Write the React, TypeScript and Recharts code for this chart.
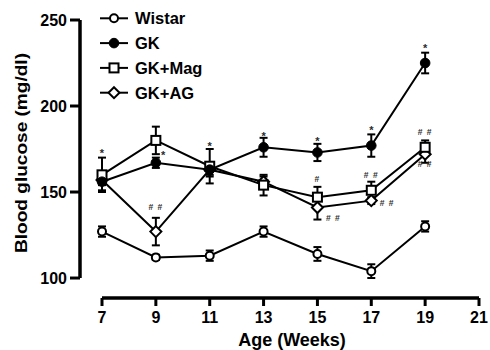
import React from 'react';
import {
  ComposedChart,
  Line,
  XAxis,
  YAxis,
  ErrorBar,
  Scatter,
  ReferenceLine,
  Legend,
} from 'recharts';

// ---- data ----
const weeks = [7, 9, 11, 13, 15, 17, 19];
const wistar = [127, 112, 113, 127, 114, 104, 130];
const wistarErr = [3, 1.5, 3, 3, 4, 4, 3];
const gk = [156, 167, 163, 176, 173, 177, 225];
const gkErr = [5, 3, 3, 5.5, 5, 6.5, 6];
const gkMag = [160, 180, 165, 154, 147, 151, 176];
const gkMagErr = [10, 8, 10, 6, 6, 5, 4];
const gkAg = [157, 127, 163, 156, 141, 145, 172];
const gkAgErr = [3, 8, 4, 3, 7, 2, 5];

const xTicks = [7, 9, 11, 13, 15, 17, 19, 21];
const yTicks = [100, 150, 200, 250];
const seriesNames = ['Wistar', 'GK', 'GK+Mag', 'GK+AG'];

const annotWeeks = [7, 9, 9, 11, 13, 15, 15, 15, 17, 17, 17, 19, 19, 19];
const annotValues = [174.3, 173.3, 141.2, 178.4, 184.2, 181.5, 157.5, 134.7, 187.9, 159.8, 143.6, 235.3, 185, 166.2];
const annotTexts = ['*', '*', '# #', '*', '*', '*', '#', '# #', '*', '# #', '# #', '*', '# #', '# #'];
const annotSides = ['above', 'right', 'above', 'above', 'above', 'above', 'above', 'right', 'above', 'above', 'right', 'above', 'above', 'above'];

// ---- derived tables ----
const data = weeks.map((w, i) => ({
  week: w,
  wistar: wistar[i],
  wistarErr: wistarErr[i],
  gk: gk[i],
  gkErr: gkErr[i],
  gkMag: gkMag[i],
  gkMagErr: gkMagErr[i],
  gkAg: gkAg[i],
  gkAgErr: gkAgErr[i],
}));

const annotations = annotWeeks.map((w, i) => ({
  week: w,
  y: annotValues[i],
  text: annotTexts[i],
  side: annotSides[i],
}));

const X_MIN = 6.183;
const X_MAX = 21;
const Y_MIN = 88.39;
const Y_MAX = 250;

const FONT = '"Liberation Sans", Arial, Helvetica, sans-serif';

type Kind = 'openCircle' | 'filledCircle' | 'square' | 'diamond';
const kinds: Kind[] = ['openCircle', 'filledCircle', 'square', 'diamond'];

function Marker({ kind, cx, cy }: { kind: Kind; cx: number; cy: number }) {
  if (cx == null || cy == null) return null;
  if (kind === 'openCircle') {
    return <circle cx={cx} cy={cy} r={4} fill="#fff" stroke="#000" strokeWidth={2} />;
  }
  if (kind === 'filledCircle') {
    return <circle cx={cx} cy={cy} r={4.8} fill="#000" stroke="#000" strokeWidth={1} />;
  }
  if (kind === 'square') {
    return <rect x={cx - 4.5} y={cy - 4.5} width={9} height={9} fill="#fff" stroke="#000" strokeWidth={2} />;
  }
  const d = 5.5;
  return (
    <polygon
      points={`${cx},${cy - d} ${cx + d},${cy} ${cx},${cy + d} ${cx - d},${cy}`}
      fill="#fff"
      stroke="#000"
      strokeWidth={2}
    />
  );
}

const makeDot = (kind: Kind, prefix: string) => (p: any) => (
  <Marker key={`${prefix}-${p.index}`} kind={kind} cx={p.cx} cy={p.cy} />
);

const renderAnnotation = (p: any) => {
  const { cx, cy, payload } = p;
  const text: string = payload.text;
  const isStar = text === '*';
  const fontSize = isStar ? 11 : 8.5;
  const dx = payload.side === 'right' ? 3 + 4.3 * text.length : 0;
  const baselineShift = isStar ? 0.62 * fontSize : 0.36 * fontSize;
  const x = cx + dx;
  const y = cy + baselineShift;
  return (
    <g opacity={0.99}>
      <text
        x={x}
        y={y}
        textAnchor="middle"
        fontSize={fontSize}
        fontFamily={FONT}
        fontWeight="bold"
        fill="#2a2a2a"
        letterSpacing={isStar ? 0 : 1}
      >
        {text}
      </text>
    </g>
  );
};

const renderLegend = () => (
  <svg width={260} height={110} style={{ display: 'block' }}>
    {seriesNames.map((name, i) => {
      const y = 18.3 + i * 24.8;
      return (
        <g key={name}>
          <line x1={100} x2={128} y1={y} y2={y} stroke="#000" strokeWidth={2} />
          <Marker kind={kinds[i]} cx={114} cy={y} />
          <text x={135} y={y + 6} fontSize={16.5} fontWeight="bold" fontFamily={FONT} fill="#000">
            {name}
          </text>
        </g>
      );
    })}
  </svg>
);

const tickStyle = { fill: '#000', fontSize: 16, fontWeight: 'bold', fontFamily: FONT };

export default function App() {
  return (
    <div style={{ position: 'absolute', left: 0, top: 0, width: 490, height: 350, background: '#fff' }}>
      <ComposedChart
        width={490}
        height={350}
        data={data}
        margin={{ top: 20, right: 11, bottom: 0, left: 0 }}
      >
        <XAxis
          type="number"
          dataKey="week"
          domain={[X_MIN, X_MAX]}
          ticks={xTicks}
          allowDataOverflow
          height={52}
          axisLine={false}
          tickLine={{ stroke: '#000', strokeWidth: 3 }}
          tickSize={8}
          tickMargin={6}
          tick={tickStyle}
          interval={0}
          label={{
            content: () => (
              <text x={292} y={346} textAnchor="middle" fontSize={18} fontWeight="bold" fontFamily={FONT} fill="#000">
                Age (Weeks)
              </text>
            ),
          }}
        />
        <YAxis
          type="number"
          domain={[Y_MIN, Y_MAX]}
          ticks={yTicks}
          allowDataOverflow
          width={80}
          axisLine={false}
          tickLine={{ stroke: '#000', strokeWidth: 3 }}
          tickSize={10}
          tickMargin={3}
          tick={tickStyle}
          interval={0}
          label={{
            content: () => (
              <text
                x={27}
                y={153}
                transform="rotate(-90, 27, 153)"
                textAnchor="middle"
                fontSize={17}
                fontWeight="bold"
                fontFamily={FONT}
                fill="#000"
                textLength={200}
                lengthAdjust="spacingAndGlyphs"
              >
                Blood glucose (mg/dl)
              </text>
            ),
          }}
        />
        <ReferenceLine
          segment={[{ x: X_MIN, y: 100 }, { x: X_MIN, y: Y_MAX }]}
          stroke="#000"
          strokeWidth={3.5}
          ifOverflow="visible"
        />
        <ReferenceLine
          segment={[{ x: 7, y: Y_MIN }, { x: X_MAX, y: Y_MIN }]}
          stroke="#000"
          strokeWidth={3.5}
          ifOverflow="visible"
        />
        <Legend
          layout="vertical"
          align="center"
          verticalAlign="middle"
          content={renderLegend}
          wrapperStyle={{ left: 0, top: 0, width: 260, height: 110 }}
        />
        <Line
          dataKey="wistar"
          stroke="#000"
          strokeWidth={2}
          isAnimationActive={false}
          dot={makeDot('openCircle', 'w')}
          activeDot={false}
        >
          <ErrorBar dataKey="wistarErr" width={4} stroke="#000" strokeWidth={2} direction="y" />
        </Line>
        <Line
          dataKey="gkAg"
          stroke="#000"
          strokeWidth={2}
          isAnimationActive={false}
          dot={makeDot('diamond', 'a')}
          activeDot={false}
        >
          <ErrorBar dataKey="gkAgErr" width={4} stroke="#000" strokeWidth={2} direction="y" />
        </Line>
        <Line
          dataKey="gkMag"
          stroke="#000"
          strokeWidth={2}
          isAnimationActive={false}
          dot={makeDot('square', 'm')}
          activeDot={false}
        >
          <ErrorBar dataKey="gkMagErr" width={4} stroke="#000" strokeWidth={2} direction="y" />
        </Line>
        <Line
          dataKey="gk"
          stroke="#000"
          strokeWidth={2}
          isAnimationActive={false}
          dot={makeDot('filledCircle', 'g')}
          activeDot={false}
        >
          <ErrorBar dataKey="gkErr" width={4} stroke="#000" strokeWidth={2} direction="y" />
        </Line>
        <Scatter
          data={annotations}
          dataKey="y"
          shape={renderAnnotation}
          isAnimationActive={false}
          legendType="none"
        />
      </ComposedChart>
    </div>
  );
}
